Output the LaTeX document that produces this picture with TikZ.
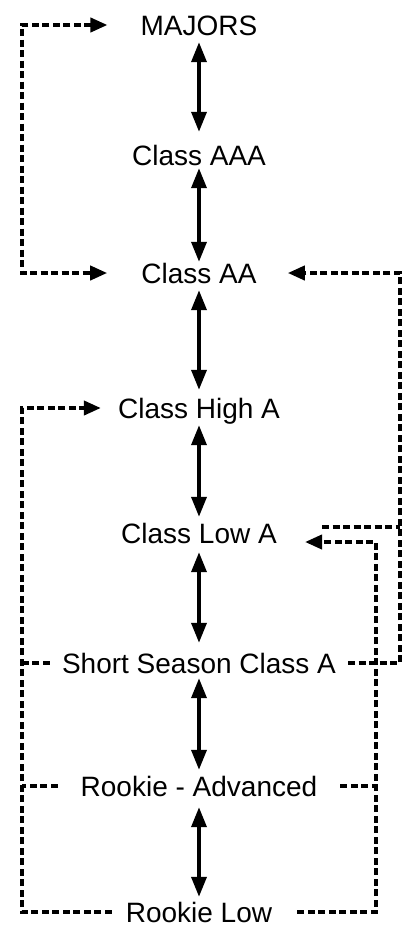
\documentclass[tikz,border=0pt]{standalone}
\usepackage{fontspec}
\setmainfont{Liberation Sans}
\usetikzlibrary{arrows.meta}
\tikzset{
  level/.style={font=\fontsize{28}{30}\selectfont, text height=20pt, text depth=0pt, inner sep=0pt},
  updown/.style={line width=3.6pt, {Triangle[length=20pt,width=15pt]}-{Triangle[length=20pt,width=15pt]}},
  dashlink/.style={line width=3.8pt, dash pattern=on 7pt off 3.5pt},
  dashtip/.style={-{Triangle[length=17pt,width=14pt]}},
  dashboth/.style={{Triangle[length=17pt,width=14pt]}-{Triangle[length=17pt,width=14pt]}}
}
\begin{document}
\begin{tikzpicture}[x=1pt,y=-1pt]
  \useasboundingbox[fill=white] (0,0) rectangle (404,927);

  % the ladder of levels
  \node[level] (majors) at (199,25)  {MAJORS};
  \node[level] (aaa)    at (199,155) {Class AAA};
  \node[level] (aa)     at (199,273) {Class AA};
  \node[level] (higha)  at (199,408) {Class High A};
  \node[level] (lowa)   at (199,533) {Class Low A};
  \node[level] (ss)     at (199,663) {Short Season Class A};
  \node[level] (ra)     at (199,786) {Rookie - Advanced};
  \node[level] (rl)     at (199,912) {Rookie Low};

  % rails for the dashed routes
  \coordinate (railL)  at (22,0);
  \coordinate (railR1) at (400,0);
  \coordinate (railR2) at (376,0);
  \coordinate (lowaIn)  at ([yshift=6pt]lowa.east);
  \coordinate (lowaOut) at ([yshift=-9pt]lowa.east);

  % moves up and down one level
  \draw[updown, shorten <=7pt,  shorten >=13pt] (majors.south) -- (aaa.north);
  \draw[updown, shorten <=3pt,  shorten >=1pt]  (aaa.south)    -- (aa.north);
  \draw[updown, shorten <=7pt,  shorten >=8pt]  (aa.south)     -- (higha.north);
  \draw[updown, shorten <=7pt,  shorten >=6pt]  (higha.south)  -- (lowa.north);
  \draw[updown, shorten <=9pt,  shorten >=10pt] (lowa.south)   -- (ss.north);
  \draw[updown, shorten <=5pt,  shorten >=6pt]  (ss.south)     -- (ra.north);
  \draw[updown, shorten <=11pt, shorten >=5pt]  (ra.south)     -- (rl.north);

  % left: Class AA <-> MAJORS
  \draw[dashlink, dashboth, shorten <=33pt, shorten >=34pt]
    (majors.west) -- (majors.west -| railL) -- (aa.west -| railL) -- (aa.west);

  % left: lower levels up to Class High A
  \draw[dashlink, dashtip, shorten <=14pt, shorten >=17pt]
    (rl.west) -- (rl.west -| railL) |- (higha.west);
  \draw[dashlink, shorten <=12pt] (ss.west) -- (ss.west -| railL);
  \draw[dashlink, shorten <=23pt] (ra.west) -- (ra.west -| railL);

  % right: Short Season / Low A up to Class AA
  \draw[dashlink, dashtip, shorten <=12pt, shorten >=31pt]
    (ss.east) -- (ss.east -| railR1) |- (aa.east);
  \draw[dashlink, shorten <=45pt] (lowaIn) -- (lowaIn -| railR1);

  % right: rookie levels up to Class Low A
  \draw[dashlink, dashtip, shorten <=25pt, shorten >=28pt]
    (rl.east) -- (rl.east -| railR2) |- (lowaOut);
  \draw[dashlink, shorten <=23pt] (ra.east) -- (ra.east -| railR2);
\end{tikzpicture}
\end{document}
